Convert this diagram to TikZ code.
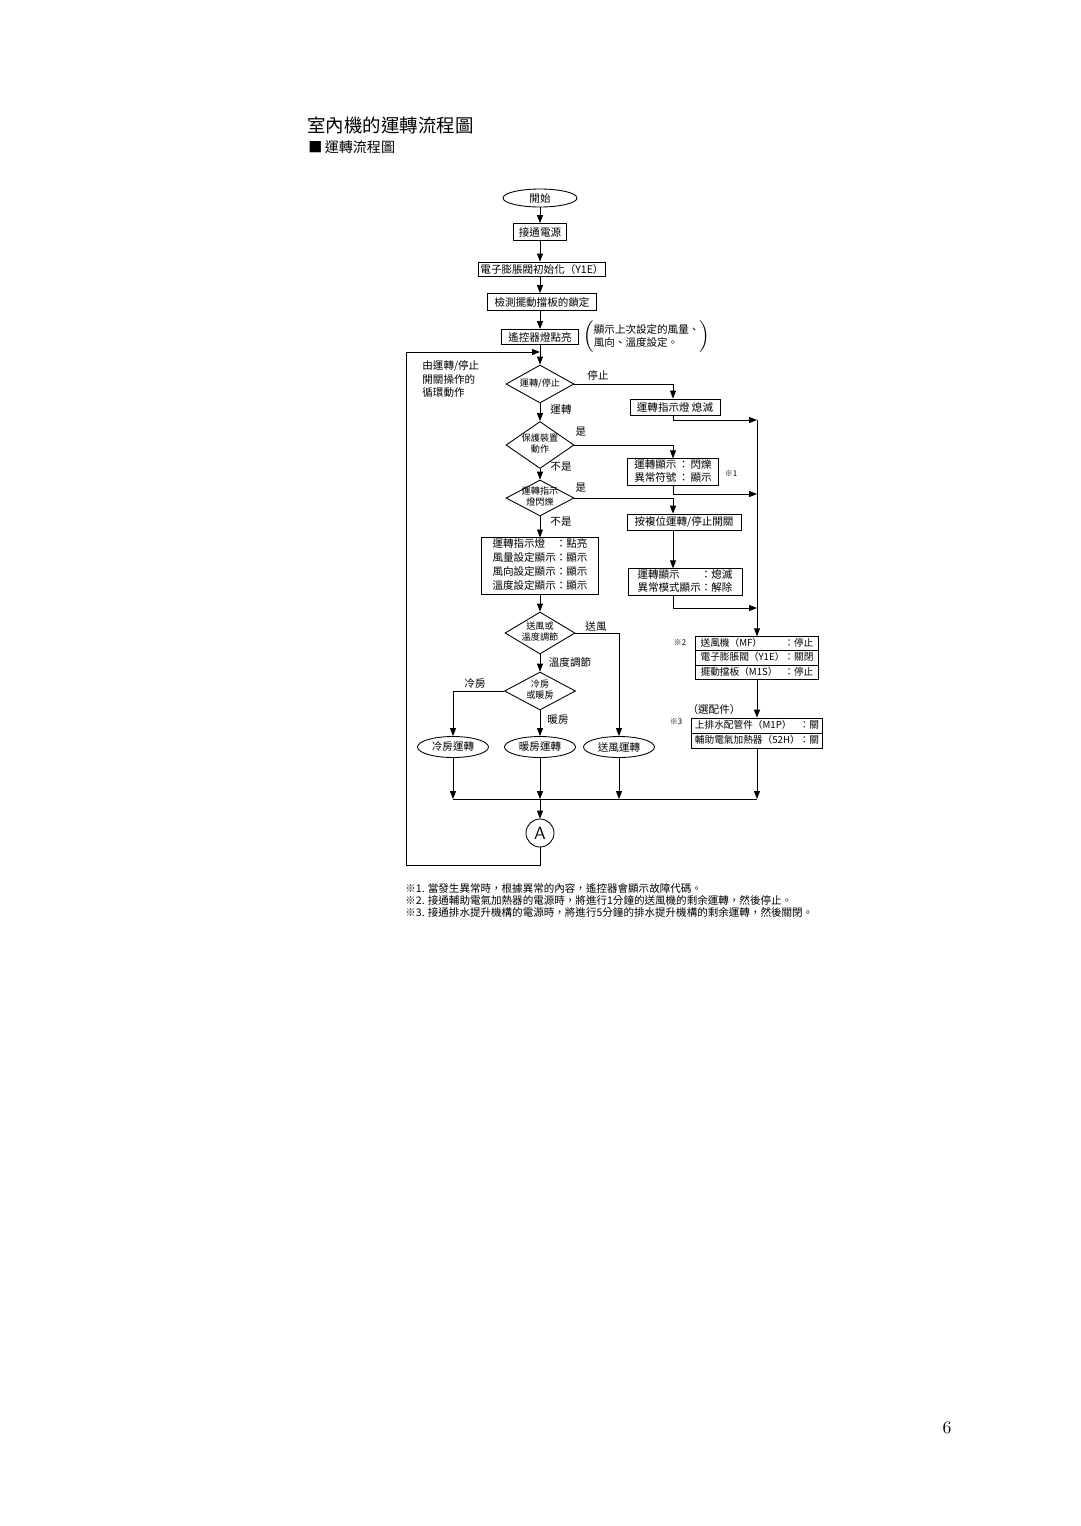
\documentclass[tikz,border=0pt]{standalone}
\usepackage{fontspec}
\newfontfamily\cjk{Noto Sans CJK TC}
\usepackage{tikz}
\usetikzlibrary{shapes.geometric,arrows.meta,calc}

\newcommand{\dtxt}[1]{\smash{\raisebox{-1.3pt}{\makebox[0pt]{\begin{tabular}{@{}c@{}}#1\end{tabular}}}}}

\begin{document}
\begin{tikzpicture}[x=0.02cm, y=-0.02cm, line width=0.5pt,
    every node/.style={font=\cjk\fontsize{6}{7.5}\selectfont},
    arr/.style={-{Triangle[length=4.5pt,width=3.4pt]}},
    box/.style={draw, rectangle, inner sep=1pt},
    rows/.style={draw, rectangle, inner xsep=2pt, inner ysep=0pt, font=\cjk\fontsize{6}{8}\selectfont},
    term/.style={draw, ellipse, inner sep=0pt},
    decision/.style={draw, diamond, inner sep=0pt, font=\cjk\fontsize{5.2}{6.4}\selectfont},
    lbl/.style={inner sep=0pt},
    noteref/.style={inner sep=0pt, font=\cjk\fontsize{4.5}{5}\selectfont}]

        \fill[white] (0,0) rectangle (1080,1526);
        \useasboundingbox (0,0) rectangle (1080,1526);

        % title
        \node[anchor=west, lbl, font=\cjk\fontsize{10.5}{12}\selectfont] (title) at (307,125) {室內機的運轉流程圖};
        \node[anchor=west, lbl, font=\cjk\fontsize{8}{9}\selectfont] (subtitle) at (308,147) {■\,運轉流程圖};

        % main column
        \node[term, minimum width=1.48cm, minimum height=0.36cm] (start) at (540,198) {開始};
        \node[box, minimum width=1.06cm, minimum height=0.34cm] (power) at (540,232) {接通電源};
        \node[box, minimum width=2.4cm, minimum height=0.28cm] (valve) at (542,269) {電子膨脹閥初始化（Y1E）};
        \node[box, minimum width=2.18cm, minimum height=0.34cm] (lock) at (542,302) {檢測擺動擋板的鎖定};
        \node[box, minimum width=1.54cm, minimum height=0.3cm] (remote) at (540,337) {遙控器燈點亮};
        \node[anchor=west, lbl] (memo) at (583,337) {$\left(\begin{tabular}{@{}l@{}}顯示上次設定的風量、\\風向、溫度設定。\end{tabular}\right)$};

        \node[decision, minimum width=1.36cm, minimum height=0.76cm] (ops) at (540,384) {\dtxt{運轉/停止}};
        \node[decision, minimum width=1.36cm, minimum height=0.94cm] (prot) at (540,445) {\dtxt{保護裝置\\動作}};
        \node[decision, minimum width=1.36cm, minimum height=0.72cm] (flash) at (540,498) {\dtxt{運轉指示\\燈閃爍}};
        \node[rows, minimum width=2.34cm] (lampon) at (540,566) {\begin{tabular}{@{}l@{：}l@{}}運轉指示燈&點亮\\風量設定顯示&顯示\\風向設定顯示&顯示\\溫度設定顯示&顯示\end{tabular}};
        \node[decision, minimum width=1.4cm, minimum height=0.84cm] (mode) at (540,633) {\dtxt{送風或\\溫度調節}};
        \node[decision, minimum width=1.42cm, minimum height=0.76cm] (hc) at (540,691) {\dtxt{冷房\\或暖房}};

        \node[term, minimum width=1.42cm, minimum height=0.42cm] (cool) at (453,747) {冷房運轉};
        \node[term, minimum width=1.42cm, minimum height=0.42cm] (heat) at (540,747) {暖房運轉};
        \node[term, minimum width=1.42cm, minimum height=0.42cm] (fan) at (619,747) {送風運轉};
        \node[draw, circle, minimum size=0.56cm, inner sep=0pt, font=\sffamily\fontsize{10}{10}\selectfont] (pa) at (540,833) {A};

        % right column
        \coordinate (rc) at (673,0);
        \node[box, minimum width=1.8cm, minimum height=0.32cm] (lampoff) at (675,407) {運轉指示燈 熄滅};
        \node[rows, minimum width=1.82cm, font=\cjk\fontsize{6}{7.5}\selectfont] (blink) at (673,472) {\begin{tabular}{@{}l@{\,：\,}l@{}}運轉顯示&閃爍\\異常符號&顯示\end{tabular}};
        \node[noteref] (m1) at (731,474) {※1};
        \node[box, minimum width=2.28cm, minimum height=0.32cm] (reset) at (684,522) {按複位運轉/停止開關};
        \node[rows, minimum width=2.28cm, font=\cjk\fontsize{6}{7.5}\selectfont] (clear) at (685,582) {\begin{tabular}{@{}l@{：}l@{}}運轉顯示&熄滅\\異常模式顯示&解除\end{tabular}};

        \node[rows, inner xsep=0pt, font=\cjk\fontsize{5.5}{8.1}\selectfont] (halt) at (757,658) {\begin{tabular}{@{\hspace{3pt}}l@{：}l@{\hspace{3pt}}}送風機（MF）&停止\\電子膨脹閥（Y1E）&關閉\\擺動擋板（M1S）&停止\end{tabular}};
        \node[noteref] (m2) at (680,643) {※2};
        \node[lbl] (opt) at (714,709) {（選配件）};
        \node[noteref] (m3) at (676,722) {※3};
        \node[rows, inner xsep=0pt, font=\cjk\fontsize{5.5}{8.5}\selectfont] (extra) at (757,733) {\begin{tabular}{@{\hspace{2pt}}l@{：}l@{\hspace{2pt}}}上排水配管件（M1P）&關\\輔助電氣加熱器（52H）&關\end{tabular}};
        \draw ($(halt.north west)!1/3!(halt.south west)$) -- ($(halt.north east)!1/3!(halt.south east)$);
        \draw ($(halt.north west)!2/3!(halt.south west)$) -- ($(halt.north east)!2/3!(halt.south east)$);
        \draw (extra.west) -- (extra.east);

        % branch labels
        \node[lbl] (l-stop) at (598,375) {停止};
        \node[lbl] (l-run) at (561,409) {運轉};
        \node[lbl] (l-yes1) at (581,432) {是};
        \node[lbl] (l-no1) at (561,467) {不是};
        \node[lbl] (l-yes2) at (581,488) {是};
        \node[lbl] (l-no2) at (561,522) {不是};
        \node[lbl] (l-fan) at (596,626) {送風};
        \node[lbl] (l-temp) at (570,662) {溫度調節};
        \node[lbl] (l-cool) at (475,684) {冷房};
        \node[lbl] (l-heat) at (558,720) {暖房};
        \node[anchor=west, lbl, align=left, font=\cjk\fontsize{6}{7.6}\selectfont] (l-loop) at (422,379) {由運轉/停止\\開關操作的\\循環動作};

        % connectors
        \draw[arr] (start) -- (power);
        \draw[arr] (power) -- (power |- valve.north);
        \draw[arr] (power |- valve.south) -- (power |- lock.north);
        \draw[arr] (power |- lock.south) -- (remote);
        \draw[arr] (remote) -- (ops);
        \draw[arr] (ops) -- (prot);
        \draw[arr] (prot) -- (flash);
        \draw[arr] (flash) -- (lampon);
        \draw[arr] (lampon) -- (mode);
        \draw[arr] (mode) -- (hc);
        \draw[arr] (hc) -- (heat);
        \draw[arr] (hc.west) -| (cool.north);
        \draw[arr] (mode.east) -| (fan.north);

        \draw[arr] (ops.east) -| (lampoff.north -| rc);
        \draw[arr] (prot.east) -| (blink.north -| rc);
        \draw[arr] (flash.east) -| (reset.north -| rc);
        \draw[arr] (reset.south -| rc) -- (clear.north -| rc);

        \coordinate (j1) at (757,420);
        \coordinate (j2) at (757,494);
        \coordinate (j3) at (757,608);
        \draw[arr] (lampoff.south -| rc) |- (j1);
        \draw[arr] (blink.south -| rc) |- (j2);
        \draw[arr] (clear.south -| rc) |- (j3);
        \draw[arr] (j1) -- (halt.north);
        \draw[arr] (halt) -- (extra);

        \coordinate (mc) at (540,799);
        \draw[arr] (cool) -- (cool |- mc);
        \draw[arr] (heat) -- (mc);
        \draw[arr] (fan) -- (fan |- mc);
        \draw[arr] (extra) -- (extra |- mc);
        \draw (cool |- mc) -- (extra |- mc);
        \draw[arr] (mc) -- (pa);

        \coordinate (lp) at (406,865);
        \coordinate (jl) at (540,352);
        \draw[arr] (pa.south) |- (lp) |- (jl);

        % notes
        \node[anchor=north west, lbl, align=left, font=\cjk\fontsize{6}{6.8}\selectfont] (notes) at (405,883) {※1. 當發生異常時，根據異常的內容，遙控器會顯示故障代碼。\\※2. 接通輔助電氣加熱器的電源時，將進行1分鐘的送風機的剩余運轉，然後停止。\\※3. 接通排水提升機構的電源時，將進行5分鐘的排水提升機構的剩余運轉，然後關閉。};

        \node[lbl, font=\rmfamily\fontsize{10}{12}\selectfont] (pageno) at (947,1428) {6};
    \end{tikzpicture}
\end{document}
